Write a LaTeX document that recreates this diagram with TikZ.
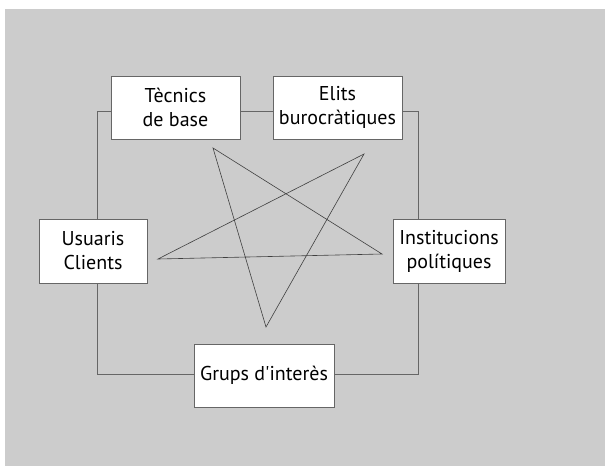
\documentclass[tikz,border=0pt]{standalone}
\usepackage{fontspec}
\setmainfont{PT Sans}
\definecolor{bggray}{HTML}{CCCCCC}
\definecolor{linegray}{HTML}{666666}

\begin{document}
\begin{tikzpicture}[x=1pt,y=-1pt]
                \useasboundingbox (0,0) rectangle (605,466);
                \fill[bggray] (5,9) rectangle (605,466);
                \begin{scope}[every node/.style={draw=linegray, fill=white, align=center, inner sep=1, minimum height=63pt, font=\fontsize{20}{24}\selectfont}]
                        \node[minimum width=129pt] (tec) at (175.5,107.5) {Tècnics\\de base};
                        \node[minimum width=129pt] (eli) at (337.5,107.5) {Elits\\burocràtiques};
                        \node[minimum width=108pt, minimum height=64pt] (usu) at (93,251) {Usuaris\\Clients};
                        \node[minimum width=112pt, minimum height=64pt] (ins) at (449,251) {Institucions\\polítiques};
                        \node[minimum width=140pt] (gru) at (264,375.5) {Grups d\textquotesingle interès};
                \end{scope}
                \coordinate (tl) at (97,111);
                \coordinate (tr) at (418,111);
                \coordinate (bl) at (97,374);
                \coordinate (br) at (418,374);
                \begin{scope}[every path/.style={draw=linegray, semithick}]
                        \path (tec.west |- tl) -- (tl) -- (tl |- usu.north);
                        \path (tec.east |- tl) -- (eli.west |- tl);
                        \path (eli.east |- tr) -- (tr) -- (tr |- ins.north);
                        \path (tl |- usu.south) -- (bl) -- (bl -| gru.west);
                        \path (tr |- ins.south) -- (br) -- (br -| gru.east);
                \end{scope}
                % star
                \coordinate (s1) at (213,148);
                \coordinate (s2) at (364,154);
                \coordinate (s3) at (158,259);
                \coordinate (s4) at (382,254);
                \coordinate (s5) at (266,327);
                \draw[black!75, semithick] (s1) -- (s4) -- (s3) -- (s2) -- (s5) -- cycle;
        \end{tikzpicture}
\end{document}
